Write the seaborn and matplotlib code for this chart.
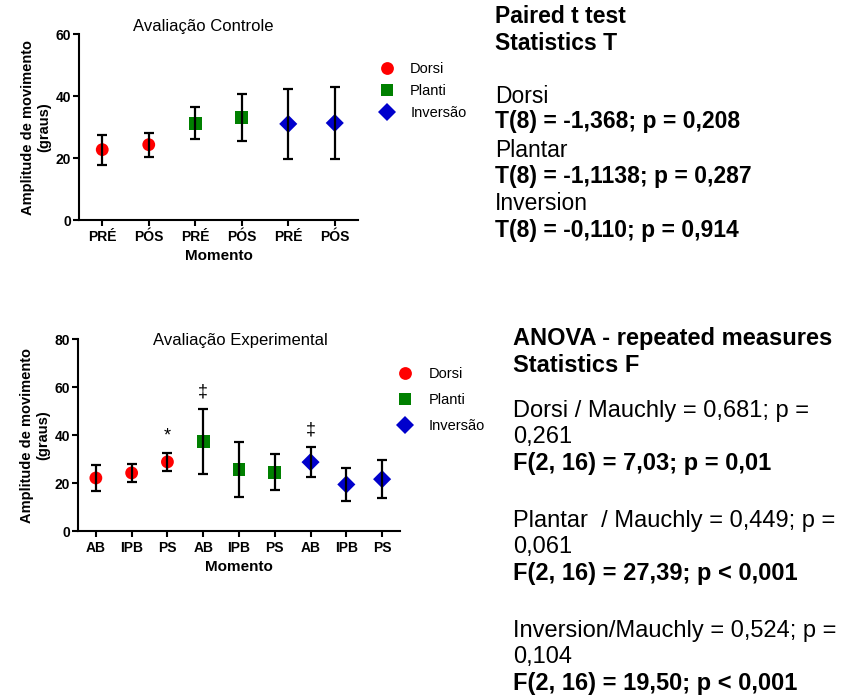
import pandas as pd
import matplotlib.pyplot as plt
from matplotlib import font_manager as fm
import seaborn as sns

# dados - avaliação controle
momento_controle = ["PRÉ", "PÓS", "PRÉ", "PÓS", "PRÉ", "PÓS"]
grupo_controle = ["Dorsi", "Dorsi", "Planti", "Planti", "Inversão", "Inversão"]
media_controle = [22.7, 24.3, 31.2, 33.0, 31.0, 31.3]
dp_controle = [4.8, 3.9, 5.2, 7.6, 11.4, 11.6]

# dados - avaliação experimental
momento_exp = ["AB", "IPB", "PS", "AB", "IPB", "PS", "AB", "IPB", "PS"]
grupo_exp = ["Dorsi"] * 3 + ["Planti"] * 3 + ["Inversão"] * 3
media_exp = [22.1, 24.2, 28.8, 37.4, 25.5, 24.5, 28.7, 19.4, 21.6]
dp_exp = [5.3, 3.6, 3.7, 13.5, 11.5, 7.6, 6.3, 7.0, 8.0]
sinais_exp = ["", "", "*", "‡", "", "", "‡", "", ""]

texto_t = [
    ("Paired t test", "bold"),
    ("Statistics T", "bold"),
    ("Dorsi", "normal"),
    ("T(8) = -1,368; p = 0,208", "bold"),
    ("Plantar", "normal"),
    ("T(8) = -1,1138; p = 0,287", "bold"),
    ("Inversion", "normal"),
    ("T(8) = -0,110; p = 0,914", "bold"),
]
linhas_t = [23, 50, 103, 128, 157, 183, 210, 237]

texto_f = [
    ("ANOVA - repeated measures", "bold"),
    ("Statistics F", "bold"),
    ("Dorsi / Mauchly = 0,681; p =", "normal"),
    ("0,261", "normal"),
    ("F(2, 16) = 7,03; p = 0,01", "bold"),
    ("Plantar  / Mauchly = 0,449; p =", "normal"),
    ("0,061", "normal"),
    ("F(2, 16) = 27,39; p < 0,001", "bold"),
    ("Inversion/Mauchly = 0,524; p =", "normal"),
    ("0,104", "normal"),
    ("F(2, 16) = 19,50; p < 0,001", "bold"),
]
linhas_f = [345, 372, 417, 443, 470, 527, 553, 580, 637, 663, 690]

cores = {"Dorsi": "#ff0000", "Planti": "#008000", "Inversão": "#0000cc"}
marcadores = {"Dorsi": "o", "Planti": "s", "Inversão": "D"}

# evita que a variante "Narrow" seja escolhida
fm.fontManager.ttflist = [f for f in fm.fontManager.ttflist
                          if "narrow" not in f.fname.lower()
                          and "narrow" not in f.name.lower()]
try:
    fm.fontManager._findfont_cached.cache_clear()
except AttributeError:
    pass

sns.set_style("ticks")
plt.rcParams["font.family"] = ["Liberation Sans", "DejaVu Sans"]
for k in ["text.color", "axes.labelcolor", "xtick.color", "ytick.color"]:
    plt.rcParams[k] = "black"

fig = plt.figure(figsize=(8.43, 7), dpi=100)
ax1 = fig.add_axes([0.0937, 0.6857, 0.331, 0.2657])
ax2 = fig.add_axes([0.0925, 0.2414, 0.382, 0.2743])


def painel(ax, momento, grupo, media, dp, ymax, titulo, tit_xy,
           leg_xy, leg_esp):
    df = pd.DataFrame({"pos": range(len(momento)), "media": media,
                       "dp": dp, "grupo": grupo})
    sns.scatterplot(data=df, x="pos", y="media", hue="grupo", style="grupo",
                    palette=cores, markers=marcadores, s=85, linewidth=0,
                    ax=ax, zorder=3)
    # barras de erro por cima dos marcadores, como no original
    ax.errorbar(df["pos"], df["media"], yerr=df["dp"], fmt="none",
                ecolor="black", elinewidth=1.6, capsize=3.5, capthick=1.6,
                zorder=4)
    ax.set_xlim(-0.5, len(momento) - 0.5)
    ax.set_ylim(0, ymax)
    ax.set_yticks(range(0, ymax + 1, 20))
    ax.set_xticks(range(len(momento)))
    ax.set_xticklabels(momento)
    for lab in ax.get_xticklabels() + ax.get_yticklabels():
        lab.set_fontweight("bold")
        lab.set_fontsize(10)
    ax.tick_params(length=4, width=1.5, color="black")
    ax.tick_params(axis="y", pad=1.5)
    ax.tick_params(axis="x", pad=3.5)
    sns.despine(ax=ax)
    for s in ["left", "bottom"]:
        ax.spines[s].set_linewidth(1.5)
        ax.spines[s].set_color("black")
    ax.set_xlabel("Momento", fontsize=11, fontweight="bold", labelpad=3)
    ax.set_ylabel("Amplitude de movimento\n(graus)", fontsize=10.5,
                  fontweight="bold", labelpad=3)
    ax.text(tit_xy[0], tit_xy[1], titulo, fontsize=12, ha="center",
            va="baseline", transform=ax.transAxes)
    h, l = ax.get_legend_handles_labels()
    ax.legend(h, l, loc="upper left", bbox_to_anchor=leg_xy, frameon=False,
              fontsize=10.5, handletextpad=0.6, labelspacing=leg_esp,
              markerscale=1.0)
    return df


painel(ax1, momento_controle, grupo_controle, media_controle, dp_controle,
       60, "Avaliação Controle", (0.444, 1.016), (1.004, 0.92), 0.55)
df2 = painel(ax2, momento_exp, grupo_exp, media_exp, dp_exp,
             80, "Avaliação Experimental", (0.503, 0.969), (0.93, 0.92), 0.8)

for x, m, d, sg in zip(df2["pos"], df2["media"], df2["dp"], sinais_exp):
    if sg:
        ax2.text(x, m + d + 7, sg, ha="center", va="center", fontsize=13)

for (t, w), yp in zip(texto_t, linhas_t):
    fig.text(495 / 843, 1 - yp / 700, t, fontsize=16.5, fontweight=w,
             va="baseline", ha="left")
for (t, w), yp in zip(texto_f, linhas_f):
    fig.text(513 / 843, 1 - yp / 700, t, fontsize=17, fontweight=w,
             va="baseline", ha="left")

fig.savefig("out.png", dpi=100)
